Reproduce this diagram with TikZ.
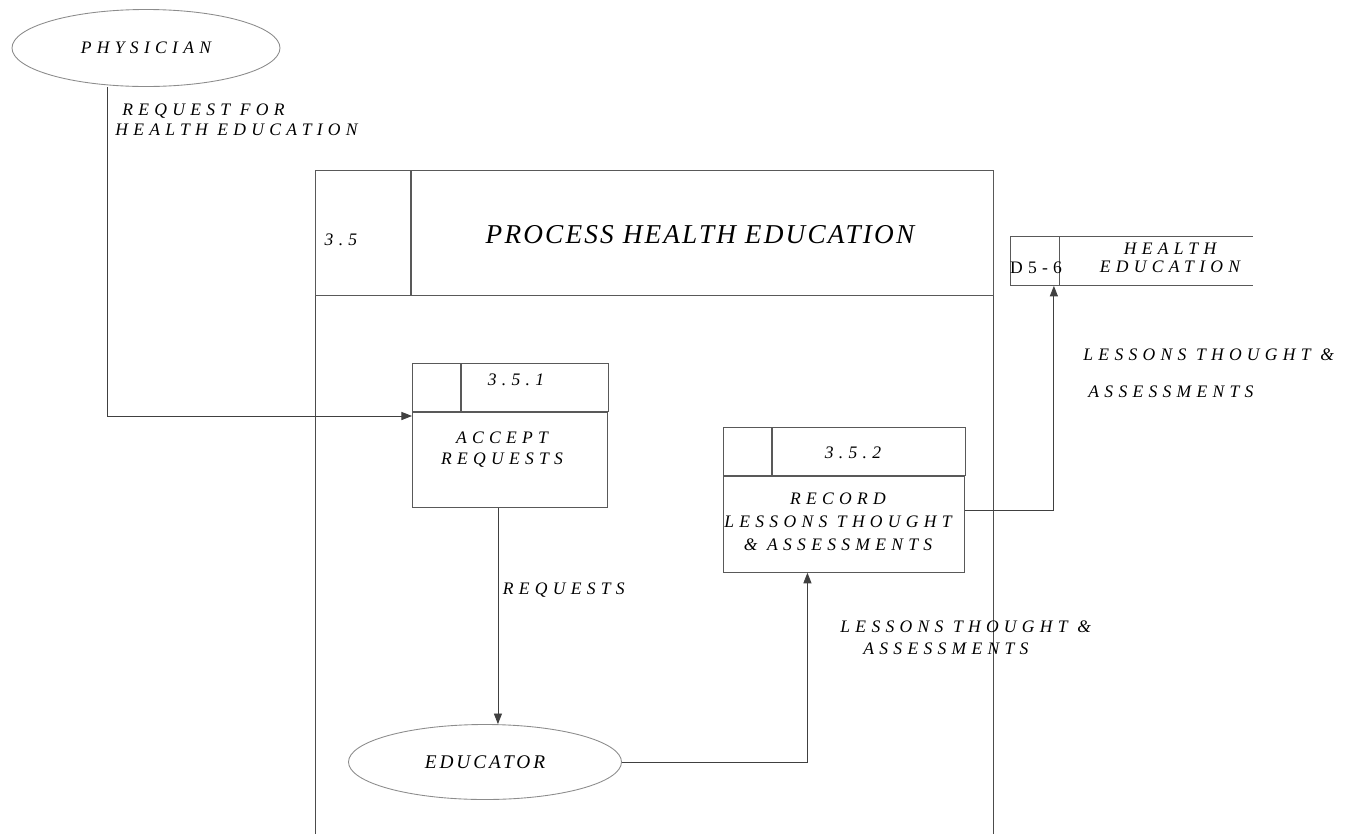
\documentclass[tikz,border=0pt]{standalone}
\usepackage{fontspec}
\setmainfont{Liberation Serif}
\newfontfamily\dfdfont{Liberation Serif}[LetterSpace=30]
\newfontfamily\dfdtight{Liberation Serif}[LetterSpace=15]
\newfontfamily\dfdtitle{Liberation Serif}[LetterSpace=8]
\usetikzlibrary{arrows.meta,shapes.geometric,positioning}

\begin{document}
\begin{tikzpicture}[
        > = {Triangle[length=6pt,width=4.6pt]}, % filled arrow head
        line width = 0.5pt, % line style
        node distance = 2cm, % distance between nodes
        font = \dfdfont\itshape\fontsize{10}{12}\selectfont
      ]

      \tikzstyle{entity}=[ellipse,draw=black!45,inner sep=0pt]
      \tikzstyle{cell}=[rectangle,draw=black!65,inner sep=0pt,minimum height=0.96cm]
      \tikzstyle{flow}=[->,draw=black!75]
      \tikzstyle{txt}=[inner sep=0pt,align=center]

      \useasboundingbox (0,0) rectangle (27.3,-16.68);

      % physician
      \node[entity, minimum width=5.36cm, minimum height=1.54cm] (phys) at (2.92,-0.96) {PHYSICIAN};
      \node[txt, align=left, anchor=west, font=\dfdfont\itshape\fontsize{10}{11.5}\selectfont] (reqhe) at (2.3,-2.4) {\hspace*{0.14cm}REQUEST FOR\\HEALTH EDUCATION};

      % process 3.5
      \node[cell, minimum width=1.9cm, minimum height=2.5cm, anchor=north west] (p35id) at (6.3,-3.4) {};
      \node[cell, minimum width=11.64cm, minimum height=2.5cm, right=0pt of p35id] (p35) {};
      \node[txt] (p35no) at (6.82,-4.8) {3.5};
      \node[txt, font=\dfdtitle\itshape\fontsize{15.5}{18}\selectfont] (p35name) at (14.0,-4.7) {PROCESS HEALTH EDUCATION};
      \draw[black!70] (p35id.south west) -- (p35id.south west |- 0,-16.68);
      \draw[black!70] (p35.south east) -- (p35.south east |- 0,-16.68);

      % process 3.5.1
      \node[cell, minimum width=0.96cm, anchor=north west] (accid) at (8.24,-7.26) {};
      \node[cell, minimum width=2.94cm, right=0pt of accid] (accno) {};
      \node[cell, minimum width=3.9cm, minimum height=1.9cm, anchor=north west] (acc) at (accid.south west) {};
      \node[txt] (accnum) at (10.32,-7.6) {3.5.1};
      \node[txt] (acctext) at (10.04,-9.0) {ACCEPT\\REQUESTS};

      % process 3.5.2
      \node[cell, minimum width=0.96cm, anchor=north west] (recid) at (14.46,-8.54) {};
      \node[cell, minimum width=3.86cm, right=0pt of recid] (recno) {};
      \node[cell, minimum width=4.82cm, minimum height=1.92cm, anchor=north west] (rec) at (recid.south west) {};
      \node[txt] (recnum) at (17.06,-9.06) {3.5.2};
      \node[txt, font=\dfdfont\itshape\fontsize{10}{13}\selectfont] (rectext) at (16.76,-10.44) {RECORD\\LESSONS THOUGHT\\\& ASSESSMENTS};

      % data store D5-6
      \node[cell, minimum width=0.98cm, minimum height=0.98cm, anchor=north west] (storeid) at (20.2,-4.72) {};
      \draw[black!65] (storeid.north east) -- ++(3.86,0);
      \draw[black!65] (storeid.south east) -- ++(3.86,0);
      \node[txt, font=\dfdfont\fontsize{10}{12}\selectfont] (storeno) at (20.72,-5.36) {D5-6};
      \node[txt, font=\dfdfont\itshape\fontsize{10}{10}\selectfont] (storename) at (23.4,-5.16) {HEALTH\\EDUCATION};

      % educator
      \node[entity, minimum width=5.46cm, minimum height=1.5cm, font=\dfdtight\itshape\fontsize{11}{13}\selectfont] (edu) at (9.7,-15.24) {EDUCATOR};

      % flows
      \coordinate (physdrop) at (2.14,-8.32);
      \draw[flow] (phys.south -| physdrop) -- (physdrop) -- (physdrop -| acc.west);
      \draw[flow] ([xshift=-0.24cm]acc.south) -- ([xshift=-0.24cm]acc.south |- edu.north);
      \node[txt, anchor=west] (reqs) at (10.05,-11.8) {REQUESTS};
      \draw[flow] (edu.east) -| ([xshift=-0.73cm]rec.south);
      \node[txt, align=left, anchor=west, font=\dfdfont\itshape\fontsize{10}{12.5}\selectfont] (lessons) at (16.8,-12.76) {LESSONS THOUGHT \&\\\hspace*{0.46cm}ASSESSMENTS};
      \draw[flow] ([yshift=0.28cm]rec.east) -| ([xshift=-0.12cm]storeid.south east);
      \node[txt, align=left, anchor=west] (lessonsup) at (21.66,-7.47) {LESSONS THOUGHT \&\\[9pt]\hspace*{0.1cm}ASSESSMENTS};

    \end{tikzpicture}
\end{document}
